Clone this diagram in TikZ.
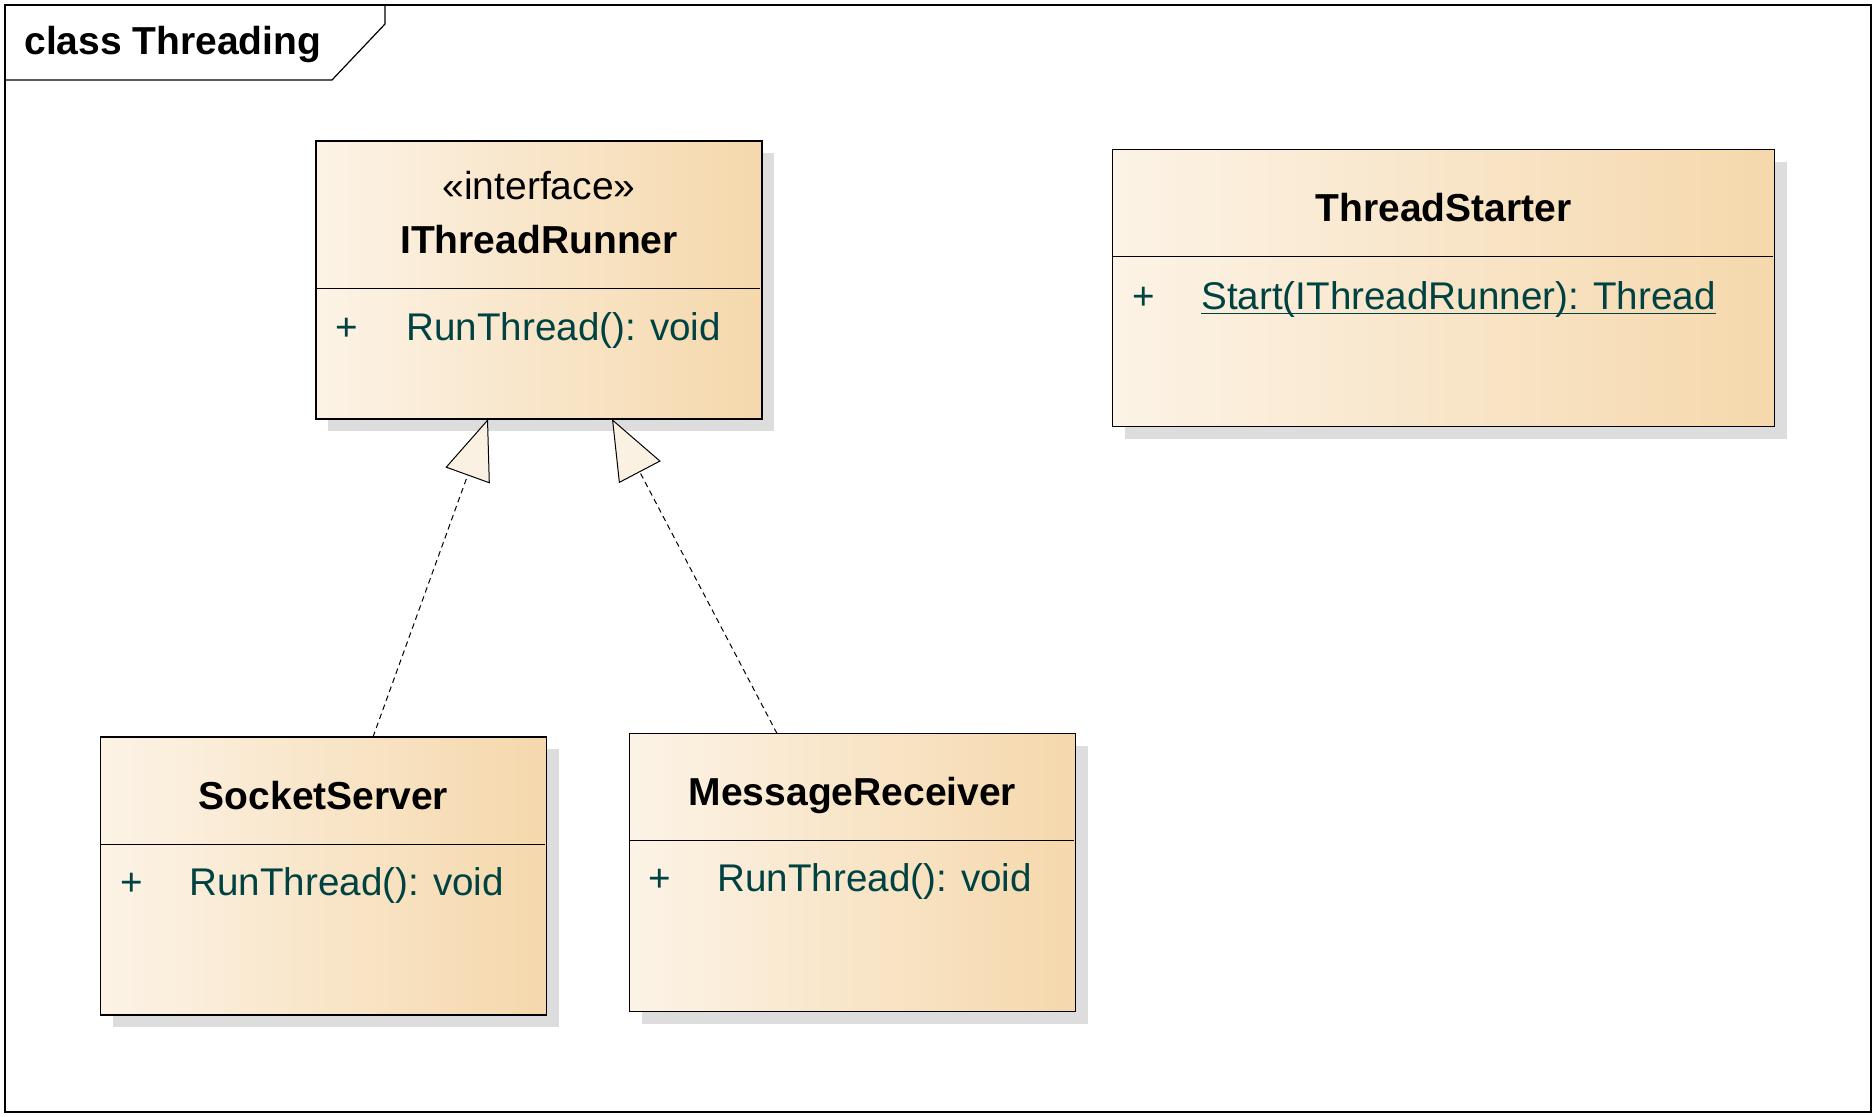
\documentclass[tikz,border=0pt]{standalone}
\usepackage{fontspec}
\setmainfont{Liberation Sans}
\usetikzlibrary{arrows.meta,positioning}

\definecolor{boxleft}{RGB}{252,243,230}
\definecolor{boxright}{RGB}{245,216,172}
\definecolor{tipfill}{RGB}{251,241,226}
\definecolor{memberteal}{RGB}{0,66,66}
\definecolor{shadowgray}{RGB}{221,221,221}
\newcommand{\umlfont}{\fontsize{19.5}{23}\selectfont}
\newcommand{\opfont}{\fontsize{19.3}{23}\selectfont}

\tikzset{
    classbox/.style={draw, line width=0.6pt, left color=boxleft, right color=boxright,
        inner sep=0pt, outer sep=0pt, anchor=north west,
        minimum width=223pt, minimum height=139pt},
    classname/.style={font=\umlfont\bfseries, anchor=base, inner sep=0pt},
    stereotype/.style={font=\umlfont, anchor=base, inner sep=0pt},
    member/.style={font=\opfont, text=memberteal, anchor=base west, inner sep=0pt},
    visibility/.style={member, anchor=base},
    realize/.style={line width=0.5pt, dash pattern=on 2.8pt off 2pt,
        -{Triangle[length=30pt,width=23.5pt,fill=tipfill]}},
}

\begin{document}
\begin{tikzpicture}[x=0.5pt,y=-0.5pt]
    \useasboundingbox (0,0) rectangle (1876,1116);

    % frame
    \draw[line width=0.6pt] (5,5) rectangle (1871,1112);
    \draw[line width=0.6pt] (5,80) -- (332,80) -- (385,24) -- (385,5);
    \node[classname, anchor=base west] (framelabel) at (24,54) {class Threading};

    % shadows
    \foreach \x/\y/\w/\h in {316/141/446/278, 1112.5/149.5/662/277, 100.5/737/446/278, 629.5/733.5/446/278} {
        \fill[shadowgray] (\x+12,\y+12) rectangle ++(\w,\h);
    }

    % IThreadRunner
    \node[classbox] (runner) at (316,141) {};
    \node[stereotype] (runnerst) at ([shift={(0,58)}]runner.north) {«interface»};
    \node[classname] (runnername) at ([shift={(0,112)}]runner.north) {IThreadRunner};
    \draw[line width=0.5pt] ([shift={(0,147)}]runner.north west) -- ([shift={(-2,147)}]runner.north east);
    \node[visibility] (runnervis) at ([shift={(31,199)}]runner.north west) {+};
    \node[member] (runnerop) at ([shift={(90,199)}]runner.north west) {RunThread(): void};

    % ThreadStarter
    \node[classbox, minimum width=331pt, minimum height=138.5pt] (starter) at (1112.5,149.5) {};
    \node[classname] (startername) at ([shift={(0,71.5)}]starter.north) {ThreadStarter};
    \draw[line width=0.5pt] ([shift={(0,106.5)}]starter.north west) -- ([shift={(-2,106.5)}]starter.north east);
    \node[visibility] (startervis) at ([shift={(31.5,159.5)}]starter.north west) {+};
    \node[member] (starterop) at ([shift={(88.5,159.5)}]starter.north west) {Start(IThreadRunner): Thread};
    \draw[memberteal, line width=0.5pt] ([shift={(0,4)}]starterop.base west) -- ([shift={(0,4)}]starterop.base east);

    % SocketServer
    \node[classbox] (socket) at (100.5,737) {};
    \node[classname] (socketname) at ([shift={(0,72)}]socket.north) {SocketServer};
    \draw[line width=0.5pt] ([shift={(0,107.5)}]socket.north west) -- ([shift={(-2,107.5)}]socket.north east);
    \node[visibility] (socketvis) at ([shift={(31,158)}]socket.north west) {+};
    \node[member] (socketop) at ([shift={(88.5,158)}]socket.north west) {RunThread(): void};

    % MessageReceiver
    \node[classbox] (receiver) at (629.5,733.5) {};
    \node[classname] (receivername) at ([shift={(0,72)}]receiver.north) {MessageReceiver};
    \draw[line width=0.5pt] ([shift={(0,107)}]receiver.north west) -- ([shift={(-2,107)}]receiver.north east);
    \node[visibility] (receivervis) at ([shift={(30,158)}]receiver.north west) {+};
    \node[member] (receiverop) at ([shift={(87.5,158)}]receiver.north west) {RunThread(): void};

    % realizations
    \draw[realize] ([shift={(272.5,0)}]socket.north west) -- ([shift={(172,0)}]runner.south west);
    \draw[realize] ([shift={(147.5,0)}]receiver.north west) -- ([shift={(296,0)}]runner.south west);
\end{tikzpicture}
\end{document}
